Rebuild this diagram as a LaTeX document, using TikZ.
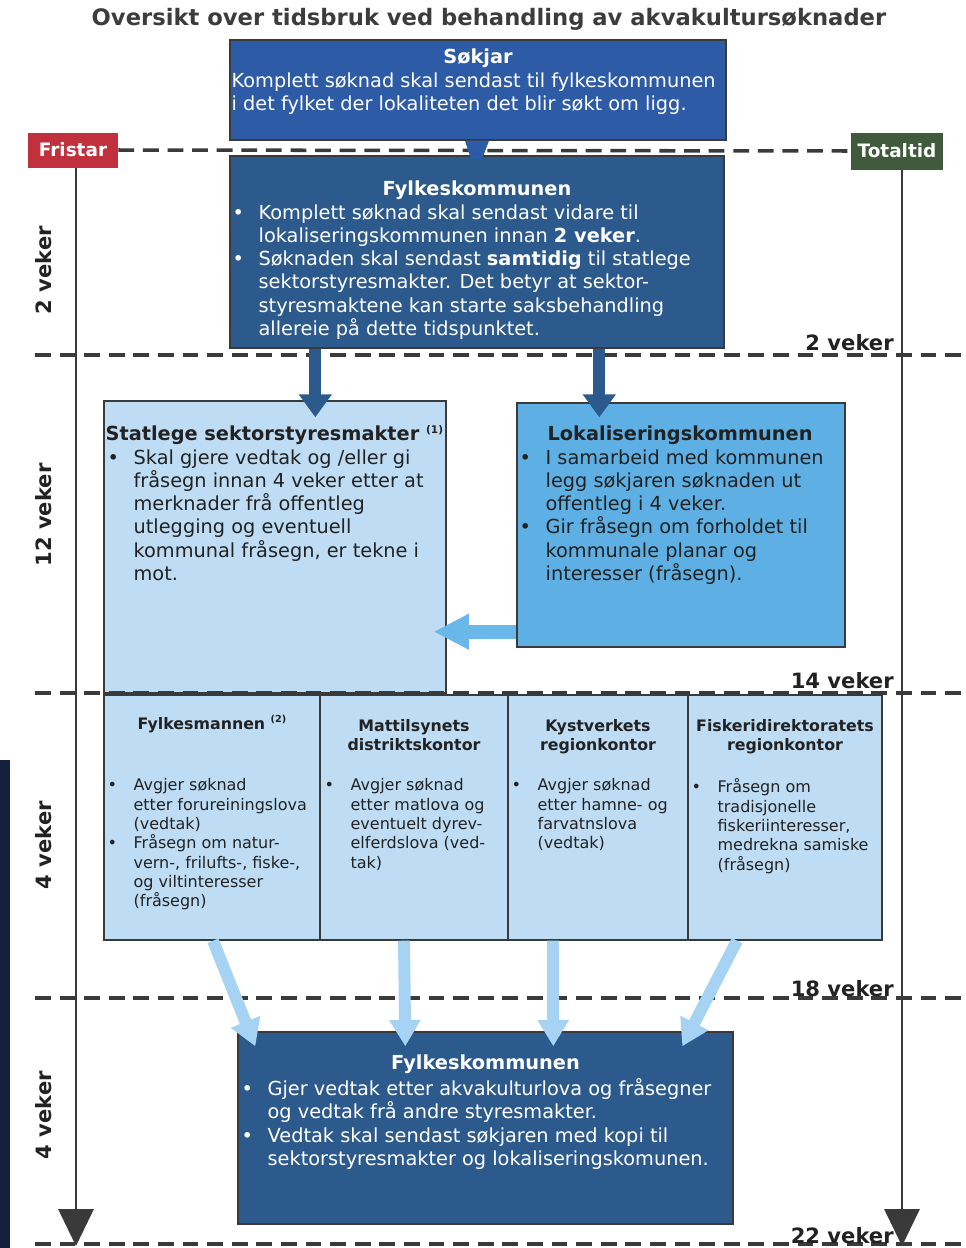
\documentclass[tikz,border=0pt]{standalone}
\usepackage{fontspec}
\setmainfont{DejaVu Sans}
\usetikzlibrary{arrows.meta,calc,fit}
\tikzset {>=Stealth}

\definecolor{sokblue}{HTML}{2E5BA6}
\definecolor{fkblue}{HTML}{2D5A8C}
\definecolor{paleblue}{HTML}{BEDCF3}
\definecolor{lokblue}{HTML}{5EAFE3}
\definecolor{arrowpale}{HTML}{A6D3F3}
\definecolor{arrowlok}{HTML}{6AB7EA}
\definecolor{fristred}{HTML}{C1313D}
\definecolor{totgreen}{HTML}{3F5B3B}
\definecolor{linegray}{HTML}{3A3A3A}
\definecolor{textgray}{HTML}{222222}
\definecolor{titlegray}{HTML}{3C3C3C}
\definecolor{navystrip}{HTML}{13213F}

\newlength{\bhang}
\setlength{\bhang}{0.52cm}
\newcommand{\bitem}{\makebox[\bhang][l]{\textbullet}}
\newcommand{\bcont}{\hspace*{\bhang}}

\tikzset{
  box/.style={draw=linegray, line width=0.8pt, inner sep=0pt},
  bodytext/.style={inner sep=0pt, align=left, anchor=north west, font=\fontsize{11}{13.2}\selectfont},
  headtext/.style={inner sep=0pt, font=\bfseries\fontsize{11}{13.2}\selectfont},
  smalltext/.style={inner sep=0pt, align=left, anchor=north west, text=textgray, font=\fontsize{9.1}{11}\selectfont},
  smallhead/.style={inner sep=0pt, align=center, anchor=north, text=textgray, font=\bfseries\fontsize{9}{10.8}\selectfont},
  tag/.style={text=white, font=\bfseries\fontsize{10.5}{12}\selectfont, inner sep=0pt},
  weeks/.style={text=textgray, font=\bfseries\fontsize{12}{14}\selectfont, inner sep=0pt},
  timeline/.style={draw=linegray, line width=1.4pt, -{Triangle[width=20pt,length=21pt]}},
  tdash/.style={draw=linegray, line width=2pt, dash pattern=on 9pt off 5pt},
  darkarrow/.style={draw=fkblue, line width=6.8pt, -{Triangle[width=18pt,length=13pt]}},
  lokarrow/.style={draw=arrowlok, line width=8pt, -{Triangle[width=19pt,length=20pt]}},
  palearrow/.style={draw=arrowpale, line width=6.8pt, -{Triangle[width=17pt,length=15pt]}}
}

\begin{document}
\begin{tikzpicture}[x=0.02cm, y=-0.02cm]
\useasboundingbox (0,0) rectangle (966,1248);

% Title
\node[font=\bfseries\fontsize{12.9}{15}\selectfont, text=titlegray, inner sep=0pt] (title) at (489,19) {Oversikt over tidsbruk ved behandling av akvakultursøknader};

% Dark strip at the left edge
\fill[navystrip] (0,760) rectangle (10,1248);

% Boxes
\node[box, fill=sokblue, fit={(230,40) (726,140)}] (sokjar) {};
\node[box, fill=fkblue, fit={(230,156) (724,348)}] (fk1) {};
\node[box, fill=paleblue, fit={(104,401) (446,693)}] (stat) {};
\node[box, fill=lokblue, fit={(517,403) (845,647)}] (lok) {};
\node[box, fill=paleblue, fit={(104,695) (320,940)}] (fm) {};
\node[box, fill=paleblue, fit={(320,695) (508,940)}] (mt) {};
\node[box, fill=paleblue, fit={(508,695) (688,940)}] (kv) {};
\node[box, fill=paleblue, fit={(688,695) (882,940)}] (fd) {};
\node[box, fill=fkblue, fit={(238,1032) (733,1224)}] (fk2) {};

% Timeline: Fristar and Totaltid
\node[tag, fill=fristred, minimum width=1.8cm, minimum height=0.7cm] (fristar) at (73,150) {Fristar};
\node[tag, fill=totgreen, minimum width=1.84cm, minimum height=0.74cm] (totaltid) at (897,151) {Totaltid};
\coordinate (fristend) at (76,1246);
\coordinate (totend) at (902,1246);
\draw [timeline] (fristar.south -| fristend) -- (fristend);
\draw [timeline] (totaltid.south -| totend) -- (totend);

% Week marks
\draw [tdash] (fristar.east) -- (totaltid.west);
\foreach \y in {355,693,998,1244}
  \draw [tdash] (35,\y) -- (966,\y);
\node[weeks, anchor=base east] (w2) at (894,350) {2 veker};
\node[weeks, anchor=base east] (w14) at (894,688) {14 veker};
\node[weeks, anchor=base east] (w18) at (894,996) {18 veker};
\node[weeks, anchor=base east] (w22) at (894,1243) {22 veker};
\node[weeks, rotate=90] (p2) at (44,270) {2 veker};
\node[weeks, rotate=90] (p12) at (44,515) {12 veker};
\node[weeks, rotate=90] (p4a) at (44,845) {4 veker};
\node[weeks, rotate=90] (p4b) at (44,1115) {4 veker};

% Søkjar
\node[headtext, text=white, anchor=base] (sokjarhead) at ($(sokjar.north)+(0,24)$) {Søkjar};
\node[bodytext, text=white] (sokjartxt) at ($(sokjar.north west)+(2,33)$) {Komplett søknad skal sendast til fylkeskommunen\\
i det fylket der lokaliteten det blir søkt om ligg.};
\fill[sokblue] ($(sokjar.south)+(-13,0)$) -- ($(sokjar.south)+(11,0)$) -- ($(fk1.north)+(5,4)$) -- ($(fk1.north)+(-6,4)$) -- cycle;

% Fylkeskommunen, first round
\node[headtext, text=white, anchor=base] (fk1head) at ($(fk1.north)+(0,40)$) {Fylkeskommunen};
\node[bodytext, text=white] (fk1txt) at ($(fk1.north west)+(3,49)$) {\bitem Komplett søknad skal sendast vidare til\\
\bcont lokaliseringskommunen innan \textbf{2 veker}.\\
\bitem Søknaden skal sendast \textbf{samtidig} til statlege\\
\bcont sektorstyresmakter. Det betyr at sektor-\\
\bcont styresmaktene kan starte saksbehandling\\
\bcont allereie på dette tidspunktet.};

% Arrows out of Fylkeskommunen
\draw [darkarrow] ($(fk1.south west)+(86,0)$) -- ($(stat.north west)+(212,17)$);
\draw [darkarrow] ($(fk1.south west)+(370,0)$) -- ($(lok.north west)+(83,15)$);

% Statlege sektorstyresmakter
\node[headtext, text=textgray, anchor=base west] (stathead) at ($(stat.north west)+(2,40)$) {Statlege sektorstyresmakter {\fontsize{6}{6}\selectfont\raisebox{4pt}{(1)}}};
\node[bodytext, text=textgray] (stattxt) at ($(stat.north west)+(4,49)$) {\bitem Skal gjere vedtak og /eller gi\\
\bcont fråsegn innan 4 veker etter at\\
\bcont merknader frå offentleg\\
\bcont utlegging og eventuell\\
\bcont kommunal fråsegn, er tekne i\\
\bcont mot.};

% Lokaliseringskommunen
\node[headtext, text=textgray, anchor=base west] (lokhead) at ($(lok.north west)+(31,38)$) {Lokaliseringskommunen};
\node[bodytext, text=textgray] (loktxt) at ($(lok.north west)+(3,47)$) {\bitem I samarbeid med kommunen\\
\bcont legg søkjaren søknaden ut\\
\bcont offentleg i 4 veker.\\
\bitem Gir fråsegn om forholdet til\\
\bcont kommunale planar og\\
\bcont interesser (fråsegn).};
\coordinate (lokout) at ($(lok.south west)+(0,-16)$);
\draw [lokarrow] (lokout) -- ($(stat.east |- lokout)+(-13,0)$);

% The four sector offices
\node[smallhead] (fmhead) at ($(fm.north)+(0,21)$) {Fylkesmannen {\fontsize{5.5}{6}\selectfont\raisebox{3.5pt}{(2)}}};
\node[smalltext] (fmtxt) at ($(fm.north west)+(4,84)$) {\bitem Avgjer søknad\\
\bcont etter forureiningslova\\
\bcont (vedtak)\\
\bitem Fråsegn om natur-\\
\bcont vern-, frilufts-, fiske-,\\
\bcont og viltinteresser\\
\bcont (fråsegn)};

\node[smallhead] (mthead) at ($(mt.north)+(0,25)$) {Mattilsynets\\ distriktskontor};
\node[smalltext] (mttxt) at ($(mt.north west)+(5,84)$) {\bitem Avgjer søknad\\
\bcont etter matlova og\\
\bcont eventuelt dyrev-\\
\bcont elferdslova (ved-\\
\bcont tak)};

\node[smallhead] (kvhead) at ($(kv.north)+(0,25)$) {Kystverkets\\ regionkontor};
\node[smalltext] (kvtxt) at ($(kv.north west)+(4,84)$) {\bitem Avgjer søknad\\
\bcont etter hamne- og\\
\bcont farvatnslova\\
\bcont (vedtak)};

\node[smallhead] (fdhead) at ($(fd.north)+(0,25)$) {Fiskeridirektoratets\\ regionkontor};
\node[smalltext] (fdtxt) at ($(fd.north west)+(4,84)$) {\bitem Fråsegn om\\
\bcont tradisjonelle\\
\bcont fiskeriinteresser,\\
\bcont medrekna samiske\\
\bcont (fråsegn)};

% Arrows into Fylkeskommunen
\draw [palearrow] ($(fm.south)+(1,0)$) -- ($(fk2.north west)+(18,15)$);
\draw [palearrow] ($(mt.south)+(-10,0)$) -- ($(fk2.north west)+(168,15)$);
\draw [palearrow] ($(kv.south)+(-45,0)$) -- ($(fk2.north west)+(316,15)$);
\draw [palearrow] ($(fd.south)+(-48,0)$) -- ($(fk2.north west)+(445,15)$);

% Fylkeskommunen, final decision
\node[headtext, text=white, anchor=base] (fk2head) at ($(fk2.north)+(0,38)$) {Fylkeskommunen};
\node[bodytext, text=white] (fk2txt) at ($(fk2.north west)+(4,47)$) {\bitem Gjer vedtak etter akvakulturlova og fråsegner\\
\bcont og vedtak frå andre styresmakter.\\
\bitem Vedtak skal sendast søkjaren med kopi til\\
\bcont sektorstyresmakter og lokaliseringskomunen.};
\end{tikzpicture}
\end{document}
